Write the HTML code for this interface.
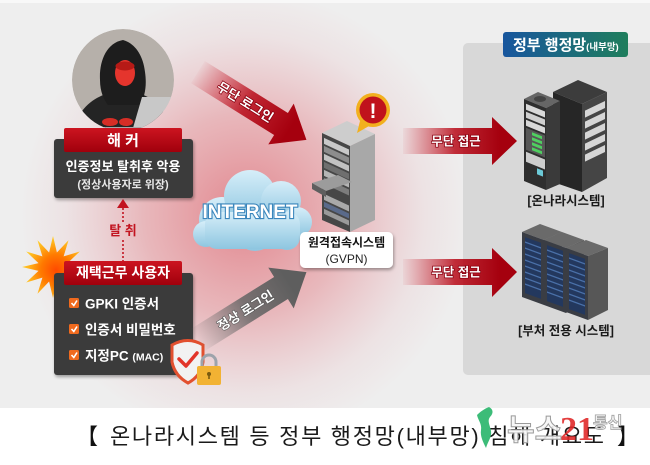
<!DOCTYPE html>
<html><head><meta charset="utf-8"><style>
html,body{margin:0;padding:0;background:#fff;}
svg{display:block;}
text{font-family:"Liberation Sans","Noto Sans CJK KR",sans-serif;}
</style></head><body>
<svg width="650" height="465" viewBox="0 0 650 465" xmlns="http://www.w3.org/2000/svg">
<defs>
  <radialGradient id="glow" gradientUnits="userSpaceOnUse" cx="245" cy="215" r="225">
    <stop offset="0" stop-color="#d83240" stop-opacity="0.55"/>
    <stop offset="0.45" stop-color="#dc4450" stop-opacity="0.32"/>
    <stop offset="0.8" stop-color="#e06070" stop-opacity="0.08"/>
    <stop offset="1" stop-color="#e06070" stop-opacity="0"/>
  </radialGradient>
  <linearGradient id="redH" gradientUnits="userSpaceOnUse" x1="400" y1="0" x2="500" y2="0">
    <stop offset="0" stop-color="#c81020" stop-opacity="0"/>
    <stop offset="0.55" stop-color="#b80a18" stop-opacity="0.85"/>
    <stop offset="1" stop-color="#a5000e"/>
  </linearGradient>
  <linearGradient id="redD" gradientUnits="userSpaceOnUse" x1="-100" y1="0" x2="10" y2="0">
    <stop offset="0" stop-color="#c81020" stop-opacity="0"/>
    <stop offset="0.55" stop-color="#b80a18" stop-opacity="0.85"/>
    <stop offset="1" stop-color="#a5000e"/>
  </linearGradient>
  <linearGradient id="grayD" gradientUnits="userSpaceOnUse" x1="-100" y1="0" x2="10" y2="0">
    <stop offset="0" stop-color="#707070" stop-opacity="0"/>
    <stop offset="0.55" stop-color="#666" stop-opacity="0.85"/>
    <stop offset="1" stop-color="#5e5e5e"/>
  </linearGradient>
  <linearGradient id="lbl" x1="0" y1="0" x2="0" y2="1">
    <stop offset="0" stop-color="#cc1420"/>
    <stop offset="1" stop-color="#a0000c"/>
  </linearGradient>
  <linearGradient id="title" x1="0" y1="0" x2="1" y2="0">
    <stop offset="0" stop-color="#18569e"/>
    <stop offset="1" stop-color="#1f7e5c"/>
  </linearGradient>
  <linearGradient id="cloud" x1="0" y1="0" x2="0" y2="1">
    <stop offset="0" stop-color="#d6eef9"/>
    <stop offset="1" stop-color="#8ec6e0"/>
  </linearGradient>
  <radialGradient id="starG" cx="0.55" cy="0.55" r="0.55">
    <stop offset="0" stop-color="#ff4a00"/>
    <stop offset="0.45" stop-color="#ff7a00"/>
    <stop offset="1" stop-color="#ffd22a"/>
  </radialGradient>
  <clipPath id="hc"><circle cx="123" cy="80" r="51"/></clipPath>
  <filter id="sh" x="-20%" y="-20%" width="140%" height="150%">
    <feDropShadow dx="1" dy="2" stdDeviation="1.6" flood-color="#000" flood-opacity="0.35"/>
  </filter>
</defs>

<!-- background -->
<rect x="0" y="0" width="650" height="465" fill="#eeeeee"/>
<rect x="0" y="0" width="650" height="408" fill="url(#glow)"/>
<rect x="0" y="0" width="650" height="3" fill="#f8f8f8"/>
<rect x="0" y="408" width="650" height="57" fill="#ffffff"/>

<!-- right panel -->
<rect x="463" y="43" width="200" height="332" rx="5" fill="#d8d8d8"/>
<rect x="503" y="32" width="125" height="25" rx="3" fill="url(#title)"/>
<text x="513" y="50" font-size="15" font-weight="bold" fill="#fff">정부 행정망<tspan font-size="9.5">(내부망)</tspan></text>

<!-- hacker circle -->
<g clip-path="url(#hc)">
  <circle cx="123" cy="80" r="51" fill="#b6b0aa"/>
  <path d="M72,133 C78,108 94,98 106,94 L141,94 C155,99 166,110 172,133 Z" fill="#242424"/>
  <path d="M123,40 C106,43 99,62 100,80 C100,92 104,100 108,105 L140,105 C145,96 147,86 145,72 C143,54 134,43 123,40 Z" fill="#1d1d1d"/>
  <ellipse cx="125" cy="73" rx="10" ry="13" fill="#e5352d"/>
  <ellipse cx="125" cy="66" rx="9.5" ry="4.5" fill="#b61a16"/>
  <polygon points="133,128 142,97 177,97 169,128" fill="#c8c8c8"/>
  <polygon points="98,127 172,127 172,131 98,131" fill="#a8a8a8"/>
  <ellipse cx="110" cy="122" rx="8" ry="4" fill="#d62e26"/>
  <ellipse cx="126" cy="122" rx="7" ry="4" fill="#d62e26"/>
</g>

<!-- hacker box -->
<rect x="54" y="139" width="139" height="59" rx="3" fill="#3b3b3b" filter="url(#sh)"/>
<rect x="64" y="128" width="118" height="24" rx="2" fill="url(#lbl)"/>
<text x="123" y="145.5" font-size="15" font-weight="bold" fill="#fff" text-anchor="middle">해 커</text>
<text x="123" y="171" font-size="13" font-weight="bold" fill="#fff" text-anchor="middle">인증정보 탈취후 악용</text>
<text x="123" y="188" font-size="11" font-weight="bold" fill="#e8e8e8" text-anchor="middle">(정상사용자로 위장)</text>

<!-- dotted arrow -->
<polygon points="117,208 129,208 123,199" fill="#c21420"/>
<line x1="123" y1="208" x2="123" y2="222" stroke="#c21420" stroke-width="1.6" stroke-dasharray="2,2"/>
<line x1="123" y1="240" x2="123" y2="262" stroke="#c21420" stroke-width="1.6" stroke-dasharray="2,2"/>
<text x="123" y="235" font-size="13" font-weight="bold" fill="#c21420" text-anchor="middle">탈 취</text>

<!-- star -->
<polygon points="84,267 67.5,270.9 79.8,282.5 63.6,277.6 68.5,293.8 56.9,281.5 53,298 49.1,281.5 37.5,293.8 42.4,277.6 26.2,282.5 38.5,270.9 22,267 38.5,263.1 26.2,251.5 42.4,256.4 37.5,240.2 49.1,252.5 53,236 56.9,252.5 68.5,240.2 63.6,256.4 79.8,251.5 67.5,263.1" fill="url(#starG)"/>

<!-- user box -->
<rect x="54" y="273" width="139" height="102" rx="3" fill="#3b3b3b" filter="url(#sh)"/>
<rect x="64" y="261" width="118" height="24" rx="2" fill="url(#lbl)"/>
<text x="123" y="277.5" font-size="14" font-weight="bold" fill="#fff" text-anchor="middle">재택근무 사용자</text>

<g>
  <rect x="69" y="298" width="10" height="10" rx="1.5" fill="#f06a1e"/>
  <path d="M71.5,303 L73.8,305.5 L77,300.5" stroke="#fff" stroke-width="1.6" fill="none"/>
  <text x="85" y="308.5" font-size="13.5" font-weight="bold" fill="#fff">GPKI 인증서</text>
  <rect x="69" y="324" width="10" height="10" rx="1.5" fill="#f06a1e"/>
  <path d="M71.5,329 L73.8,331.5 L77,326.5" stroke="#fff" stroke-width="1.6" fill="none"/>
  <text x="85" y="334.5" font-size="13.5" font-weight="bold" fill="#fff">인증서 비밀번호</text>
  <rect x="69" y="350" width="10" height="10" rx="1.5" fill="#f06a1e"/>
  <path d="M71.5,355 L73.8,357.5 L77,352.5" stroke="#fff" stroke-width="1.6" fill="none"/>
  <text x="85" y="360.5" font-size="13.5" font-weight="bold" fill="#fff">지정PC <tspan font-size="10.5">(MAC)</tspan></text>
</g>

<!-- shield + lock -->
<path d="M172,345 Q188,336 203,345 L203,362 Q201,376 188,383 Q175,376 172,362 Z" fill="#f2f2f2" stroke="#e2502f" stroke-width="3"/>
<path d="M179,359 L186,366 L197,353" stroke="#e2352a" stroke-width="3.5" fill="none" stroke-linecap="round" stroke-linejoin="round"/>
<path d="M202,368 L202,362 A7,7 0 0 1 216,362 L216,368" stroke="#9da3ab" stroke-width="3" fill="none"/>
<rect x="197" y="366" width="24" height="19" rx="2" fill="#f2b233"/>
<circle cx="209" cy="374" r="2" fill="#7a5a10"/>
<rect x="208.2" y="374" width="1.6" height="5" fill="#7a5a10"/>

<!-- red diagonal arrow 무단 로그인 -->
<g transform="translate(281,124) rotate(32)">
  <path d="M-98,-13 L0,-13 L0,-24 L30,0 L0,24 L0,13 L-98,13 Z" fill="url(#redD)"/>
  <text x="-42" y="5" font-size="13" font-weight="bold" fill="#fff" text-anchor="middle" stroke="#8a0010" stroke-width="1.5" style="paint-order:stroke">무단 로그인</text>
</g>

<!-- gray diagonal arrow 정상 로그인 -->
<g transform="translate(281,288) rotate(-32)">
  <path d="M-98,-13 L0,-13 L0,-24 L30,0 L0,24 L0,13 L-98,13 Z" fill="url(#grayD)"/>
  <text x="-42" y="5" font-size="13" font-weight="bold" fill="#fff" text-anchor="middle" stroke="#555" stroke-width="1.2" style="paint-order:stroke">정상 로그인</text>
</g>

<!-- cloud -->
<g fill="url(#cloud)">
  <circle cx="222" cy="220" r="23"/>
  <circle cx="250" cy="196" r="26"/>
  <circle cx="281" cy="201" r="20"/>
  <circle cx="297" cy="222" r="15"/>
  <circle cx="206" cy="234" r="13"/>
  <circle cx="255" cy="231" r="20"/>
  <circle cx="287" cy="237" r="13"/>
  <rect x="205" y="212" width="95" height="37" rx="12"/>
</g>
<text x="250" y="218" font-size="19" font-weight="bold" fill="#fff" text-anchor="middle" stroke="#3a86bc" stroke-width="2.2" style="paint-order:stroke">INTERNET</text>

<!-- GVPN server -->
<polygon points="322,133 347,121 375,134 350,146" fill="#cdcdcd"/>
<polygon points="322,133 350,146 350,232 322,220" fill="#474747"/>
<g transform="translate(322,133) skewY(24.9)">
  <rect x="2" y="4" width="25" height="6" fill="#c9c9c9"/>
  <rect x="2" y="12" width="25" height="6" fill="#8d8d8d"/>
  <rect x="2" y="20" width="25" height="6" fill="#c2c2c2"/>
  <rect x="2" y="28" width="25" height="6" fill="#6f6f6f"/>
  <rect x="2" y="36" width="25" height="6" fill="#b5b5b5"/>
  <rect x="2" y="44" width="25" height="6" fill="#7d7d7d"/>
  <rect x="2" y="60" width="25" height="6" fill="#a9a9a9"/>
  <rect x="2" y="68" width="25" height="5" fill="#5a6a8a"/>
  <rect x="2" y="75" width="25" height="5" fill="#9a9a9a"/>
</g>
<polygon points="350,146 375,134 375,220 350,232" fill="#a8a8a8"/>
<polygon points="312,183 338,175 352,182 326,191" fill="#9c9c9c"/>
<polygon points="312,183 326,191 326,197 312,189" fill="#5e5e5e"/>

<!-- exclamation badge -->
<polygon points="360,121 369,126 357,133" fill="#f2b01e"/>
<circle cx="373" cy="110" r="17" fill="#f2b01e"/>
<circle cx="373" cy="110" r="13.5" fill="#c0121c"/>
<text x="373" y="118" font-size="21" font-weight="bold" fill="#fff" text-anchor="middle">!</text>

<!-- GVPN label -->
<rect x="300" y="232" width="93" height="36" rx="5" fill="#fff" filter="url(#sh)"/>
<text x="346.5" y="246.5" font-size="12" font-weight="bold" fill="#111" text-anchor="middle">원격접속시스템</text>
<text x="346.5" y="263" font-size="12" fill="#222" text-anchor="middle">(GVPN)</text>

<!-- horizontal red arrows -->
<path d="M403,128 L492,128 L492,117 L517,141 L492,165 L492,154 L403,154 Z" fill="url(#redH)"/>
<text x="456" y="145.5" font-size="12.5" font-weight="bold" fill="#fff" text-anchor="middle" stroke="#8a0010" stroke-width="1.5" style="paint-order:stroke">무단 접근</text>
<path d="M403,259 L492,259 L492,248 L517,272 L492,297 L492,285 L403,285 Z" fill="url(#redH)"/>
<text x="456" y="276.5" font-size="12.5" font-weight="bold" fill="#fff" text-anchor="middle" stroke="#8a0010" stroke-width="1.5" style="paint-order:stroke">무단 접근</text>

<!-- server 1 (온나라) right tower -->
<polygon points="553,92 578,80 607,92 582,104" fill="#3c3c3c"/>
<polygon points="553,92 582,104 582,192 553,182" fill="#262626"/>
<polygon points="582,104 607,92 607,178 582,192" fill="#454545"/>
<g transform="translate(582,104) skewY(-25.6)">
  <rect x="3" y="8" width="20" height="7" fill="#d6d6d6"/>
  <rect x="3" y="19" width="20" height="7" fill="#d6d6d6"/>
  <rect x="3" y="30" width="20" height="7" fill="#d6d6d6"/>
  <rect x="3" y="41" width="20" height="7" fill="#d6d6d6"/>
  <rect x="3" y="52" width="20" height="7" fill="#d6d6d6"/>
</g>
<!-- left tower -->
<polygon points="524,99 538,92 560,101 546,108" fill="#666"/>
<ellipse cx="540" cy="99" rx="6" ry="3" fill="#444"/>
<polygon points="524,99 546,108 546,190 524,181" fill="#2e2e2e"/>
<g transform="translate(524,99) skewY(22)">
  <rect x="2" y="4" width="19" height="6" fill="#d8d8d8"/>
  <rect x="2" y="12" width="19" height="6" fill="#cfcfcf"/>
  <rect x="2" y="20" width="19" height="6" fill="#d8d8d8"/>
  <rect x="2" y="28" width="19" height="22" fill="#575757"/>
  <rect x="8" y="30" width="10" height="3" fill="#4fd060"/>
  <rect x="8" y="35" width="10" height="3" fill="#4fd060"/>
  <rect x="8" y="40" width="10" height="3" fill="#4fd060"/>
  <rect x="8" y="45" width="10" height="3" fill="#4fd060"/>
  <rect x="2" y="52" width="19" height="10" fill="#cdcdcd"/>
  <rect x="13" y="64" width="6" height="6" fill="#6ccad8"/>
</g>
<polygon points="546,108 560,101 560,184 546,190" fill="#3a3a3a"/>
<text x="566" y="205" font-size="12.5" font-weight="bold" fill="#1a1a1a" text-anchor="middle">[온나라시스템]</text>

<!-- server 2 (3 towers) -->
<g>
  <polygon points="522,232 540,224 562,232 544,240" fill="#6a6a6a"/>
  <polygon points="522,232 544,240 544,305 522,297" fill="#3a3d44"/>
  <polygon points="544,240 562,232 562,297 544,305" fill="#575757"/>
  <g transform="translate(522,232) skewY(20)">
    <rect x="3" y="4" width="16" height="56" fill="#23385e"/>
    <path d="M3,9 H19 M3,15 H19 M3,21 H19 M3,27 H19 M3,33 H19 M3,39 H19 M3,45 H19 M3,51 H19" stroke="#4a70a8" stroke-width="1.4"/>
  </g>
</g>
<g>
  <polygon points="544,240 562,232 584,240 566,248" fill="#6a6a6a"/>
  <polygon points="544,240 566,248 566,313 544,305" fill="#3a3d44"/>
  <polygon points="566,248 584,240 584,305 566,313" fill="#575757"/>
  <g transform="translate(544,240) skewY(20)">
    <rect x="3" y="4" width="16" height="56" fill="#23385e"/>
    <path d="M3,9 H19 M3,15 H19 M3,21 H19 M3,27 H19 M3,33 H19 M3,39 H19 M3,45 H19 M3,51 H19" stroke="#4a70a8" stroke-width="1.4"/>
  </g>
</g>
<g>
  <polygon points="566,248 586,240 608,248 588,256" fill="#6a6a6a"/>
  <polygon points="566,248 588,256 588,320 566,312" fill="#3a3d44"/>
  <polygon points="588,256 608,248 608,310 588,320" fill="#575757"/>
  <g transform="translate(566,248) skewY(20)">
    <rect x="3" y="4" width="16" height="56" fill="#23385e"/>
    <path d="M3,9 H19 M3,15 H19 M3,21 H19 M3,27 H19 M3,33 H19 M3,39 H19 M3,45 H19 M3,51 H19" stroke="#4a70a8" stroke-width="1.4"/>
  </g>
</g>
<text x="566" y="335" font-size="12.5" font-weight="bold" fill="#1a1a1a" text-anchor="middle">[부처 전용 시스템]</text>

<!-- caption -->
<text x="110" y="444" font-size="22" fill="#1a1a1a" textLength="494" lengthAdjust="spacing">온나라시스템 등 정부 행정망(내부망) 침해 개요도</text>
<text x="76" y="444" font-size="22" fill="#111">【</text>
<text x="617" y="444" font-size="22" fill="#111">】</text>

<!-- watermark -->
<path d="M489,407 C493,409 494,413 490,417 C487,421 490,425 491,431 C492,437 488,441 486,448 C483,442 480,436 481,430 C482,424 478,420 477,415 C480,412 484,409 489,407 Z" fill="#3cbc78"/>
<text x="507" y="440" font-size="30" font-weight="bold" fill="#f6f6f6" fill-opacity="0.9" stroke="#9a9a9a" stroke-width="1">뉴스</text>
<text x="560" y="440" font-size="34" font-weight="bold" fill="#e02a2a" fill-opacity="0.9" style="font-family:'Liberation Serif',serif">21</text>
<text x="593" y="428" font-size="16" font-weight="bold" fill="#f2f2f2" fill-opacity="0.9" stroke="#a0a0a0" stroke-width="0.8">통신</text>
</svg>
</body></html>
